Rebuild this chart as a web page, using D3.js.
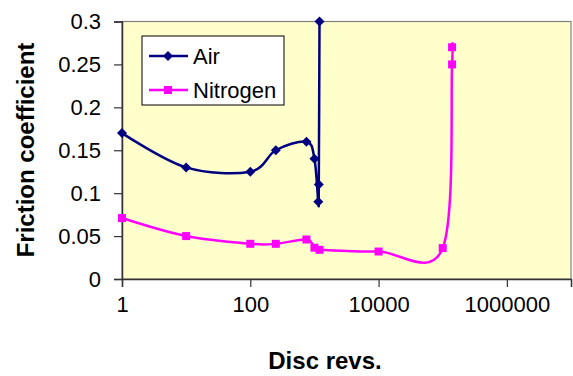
<!DOCTYPE html>
<html>
<head>
<meta charset="utf-8">
<script src="https://cdn.jsdelivr.net/npm/d3@7"></script>
<style>
  body { margin: 0; background: #fff; }
  svg { display: block; font-family: Arial, "Liberation Sans", sans-serif; }
</style>
</head>
<body>
<div id="chart"></div>
<script>
// Data
const airRevs = [1, 10, 100, 250, 750, 1000, 1150, 1170, 1200];
const airFriction = [0.17, 0.13, 0.125, 0.15, 0.16, 0.14, 0.09, 0.11, 0.3];

const n2Revs = [1, 10, 100, 250, 750, 1000, 1200, 10000, 100000, 140000, 140000];
const n2Friction = [0.071, 0.05, 0.041, 0.041, 0.046, 0.0365, 0.034, 0.032, 0.036, 0.25, 0.27];

const xTicks = [1, 100, 10000, 1000000];
const yTicks = [0, 0.05, 0.1, 0.15, 0.2, 0.25, 0.3];

const seriesNames = ['Air', 'Nitrogen'];

const width = 573;
const height = 376;
const plot = { left: 122, right: 571, top: 21.5, bottom: 279 };

const svg = d3.select('#chart')
  .append('svg')
  .attr('width', width)
  .attr('height', height);

const x = d3.scaleLog().domain([1, 1e7]).range([plot.left, plot.right]);
const y = d3.scaleLinear().domain([0, 0.3]).range([plot.bottom, plot.top]);

// Plot background and outer border
svg.append('rect')
  .attr('x', plot.left)
  .attr('y', plot.top)
  .attr('width', plot.right - plot.left)
  .attr('height', plot.bottom - plot.top)
  .attr('fill', '#ffffcc')
  .attr('stroke', '#808080')
  .attr('stroke-width', 1.2);

// Axes
const xAxis = svg.append('g')
  .attr('transform', `translate(0,${plot.bottom})`)
  .call(d3.axisBottom(x).tickValues(xTicks).tickFormat(d3.format('d')).tickSize(8).tickPadding(9));

const yAxis = svg.append('g')
  .attr('transform', `translate(${plot.left},0)`)
  .call(d3.axisLeft(y).tickValues(yTicks).tickFormat(d => String(+d.toFixed(2))).tickSize(8).tickPadding(13));

[xAxis, yAxis].forEach(a => {
  a.select('.domain').attr('stroke', '#333').attr('stroke-width', 1.5);
  a.selectAll('.tick line').attr('stroke', '#333').attr('stroke-width', 1.2);
  a.selectAll('.tick text')
    .attr('fill', '#000')
    .attr('font-size', '22px')
    .attr('font-family', 'Arial, "Liberation Sans", sans-serif');
});

// Axis titles
svg.append('text')
  .attr('x', 325)
  .attr('y', 369)
  .attr('text-anchor', 'middle')
  .attr('font-size', '24px')
  .attr('font-weight', 'bold')
  .text('Disc revs.');

svg.append('text')
  .attr('transform', 'rotate(-90)')
  .attr('x', -150)
  .attr('y', 34)
  .attr('text-anchor', 'middle')
  .attr('font-size', '24px')
  .attr('font-weight', 'bold')
  .text('Friction coefficient');

// Lines (Excel-like smoothing)
const line = d3.line()
  .x(d => x(d[0]))
  .y(d => y(d[1]))
  .curve(d3.curveCatmullRom.alpha(0));

const airData = airRevs.map((r, i) => [r, airFriction[i]]);
const n2Data = n2Revs.map((r, i) => [r, n2Friction[i]]);

const diamond = 'M0,-5L5,0L0,5L-5,0Z';

svg.append('path')
  .datum(n2Data)
  .attr('d', line)
  .attr('fill', 'none')
  .attr('stroke', '#ff00ff')
  .attr('stroke-width', 2.5);

svg.selectAll('.n2-pt')
  .data(n2Data)
  .enter()
  .append('rect')
  .attr('class', 'n2-pt')
  .attr('x', d => x(d[0]) - 4)
  .attr('y', d => y(d[1]) - 4)
  .attr('width', 8)
  .attr('height', 8)
  .attr('fill', '#ff00ff');

svg.append('path')
  .datum(airData)
  .attr('d', line)
  .attr('fill', 'none')
  .attr('stroke', '#000080')
  .attr('stroke-width', 2.5);

svg.selectAll('.air-pt')
  .data(airData)
  .enter()
  .append('path')
  .attr('class', 'air-pt')
  .attr('d', diamond)
  .attr('transform', d => `translate(${x(d[0])},${y(d[1])})`)
  .attr('fill', '#000080');

// Legend
const legend = svg.append('g');
legend.append('rect')
  .attr('x', 142)
  .attr('y', 36)
  .attr('width', 142)
  .attr('height', 69)
  .attr('fill', '#fff')
  .attr('stroke', '#000')
  .attr('stroke-width', 1);

const legendColors = ['#000080', '#ff00ff'];
seriesNames.forEach((name, i) => {
  const ly = 56 + i * 34;
  legend.append('line')
    .attr('x1', 149).attr('x2', 188)
    .attr('y1', ly).attr('y2', ly)
    .attr('stroke', legendColors[i])
    .attr('stroke-width', 2.5);
  if (i === 0) {
    legend.append('path')
      .attr('d', diamond)
      .attr('transform', `translate(168,${ly})`)
      .attr('fill', legendColors[i]);
  } else {
    legend.append('rect')
      .attr('x', 164).attr('y', ly - 4)
      .attr('width', 8).attr('height', 8)
      .attr('fill', legendColors[i]);
  }
  legend.append('text')
    .attr('x', 193)
    .attr('y', ly + 8)
    .attr('font-size', '22px')
    .text(name);
});
</script>
</body>
</html>
